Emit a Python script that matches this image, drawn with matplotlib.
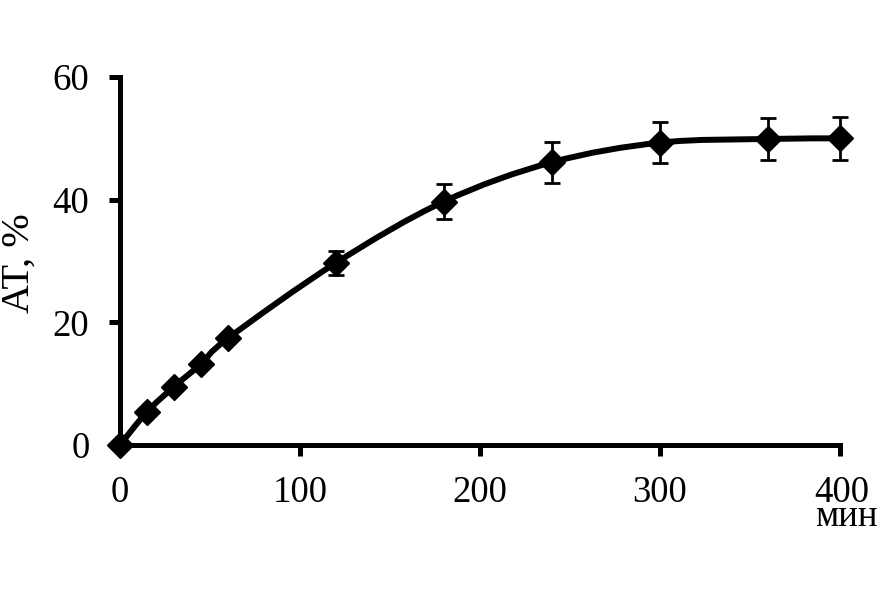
import numpy as np
import matplotlib.pyplot as plt
import matplotlib.transforms as mtransforms
from matplotlib.path import Path
from matplotlib.patches import PathPatch

# время, мин / AT, % / погрешность
t = [0, 15, 30, 45, 60, 120, 180, 240, 300, 360, 400]
at = [0, 5.4, 9.5, 13.2, 17.4, 29.7, 39.7, 46.1, 49.3, 49.9, 50.0]
err = [0, 0, 0, 0, 0, 2.0, 2.8, 3.3, 3.4, 3.5, 3.5]

x_ticks = [0, 100, 200, 300, 400]
x_labels = ['0', '100', '200', '300', '400\nмин']
y_ticks = [0, 20, 40, 60]

plt.rcParams['font.family'] = ['Liberation Serif', 'DejaVu Serif']

fig = plt.figure(figsize=(8.86, 6.07), dpi=100)
ax = fig.add_axes([0.1354, 0.2669, 0.8126, 0.6062])


# сглаженная линия (как в Excel) через кривые Безье
def smooth_path(xs, ys, k=1/6):
    pts = np.column_stack([xs, ys]).astype(float)
    verts = [pts[0]]
    codes = [Path.MOVETO]
    n = len(pts)
    for i in range(n - 1):
        p0 = pts[i - 1] if i > 0 else pts[i]
        p1 = pts[i]
        p2 = pts[i + 1]
        p3 = pts[i + 2] if i + 2 < n else pts[i + 1]
        c1 = p1 + (p2 - p0) * k
        c2 = p2 - (p3 - p1) * k
        verts += [c1, c2, p2]
        codes += [Path.CURVE4] * 3
    return Path(verts, codes)


ax.add_patch(PathPatch(smooth_path(t, at), fill=False, lw=4.3,
                       edgecolor='black', capstyle='round', zorder=3))

ax.errorbar(t, at, yerr=err, fmt='D', color='black', ms=13, ecolor='black',
            elinewidth=2, capsize=6, capthick=2, zorder=4, clip_on=False)

ax.set_xlim(0, 400)
ax.set_ylim(0, 60)
ax.set_xticks(x_ticks)
ax.set_xticklabels(x_labels, linespacing=0.62, multialignment='left')
ax.set_yticks(y_ticks)

for s in ['top', 'right']:
    ax.spines[s].set_visible(False)
for s in ['left', 'bottom']:
    ax.spines[s].set_linewidth(3.6)
    ax.spines[s].set_capstyle('projecting')

ax.tick_params(axis='both', direction='out', length=8, width=3.6,
               labelsize=26.5, colors='black', pad=14)

# сдвинуть подпись "400 / мин" немного вправо
last = ax.get_xticklabels()[-1]
last.set_transform(last.get_transform() +
                   mtransforms.ScaledTranslation(6 / 100, 0, fig.dpi_scale_trans))

fig.text(0.0214, 0.5667, 'AT, %', fontsize=29, rotation=90,
         ha='center', va='center')

fig.savefig('out.png', dpi=100)
